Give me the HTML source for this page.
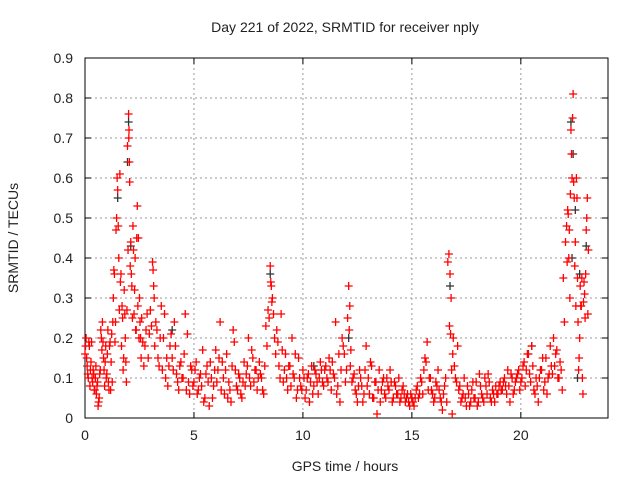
<!DOCTYPE html>
<html><head><meta charset="utf-8"><style>
body{margin:0;background:#fff}
svg{display:block;font-family:"Liberation Sans",sans-serif}
</style></head><body>
<svg id="chart" width="640" height="480">
<text x="345" y="32" text-anchor="middle" font-size="14" fill="#222">Day 221 of 2022, SRMTID for receiver nply</text>
<text transform="translate(18,238) rotate(-90)" text-anchor="middle" font-size="14" fill="#222">SRMTID / TECUs</text>
<text x="345" y="471" text-anchor="middle" font-size="14" fill="#222">GPS time / hours</text>
<g id="grid"></g><g id="axes"></g><g id="marks"></g>
</svg>
<script>
const xTicks=[0,5,10,15,20];
const yTicks=[0,0.1,0.2,0.3,0.4,0.5,0.6,0.7,0.8,0.9];
const yTickLabels=["0","0.1","0.2","0.3","0.4","0.5","0.6","0.7","0.8","0.9"];
const redT=[0,0.05,0.1,0.15,0.2,0.25,0.3,0.35,0.4,0.45,0.5,0.55,0.6,0.65,0.7,0.75,0.8,0.85,0.9,0.95,1.0,1.05,1.1,1.15,1.2,1.25,1.3,1.35,1.4,1.45,1.5,1.55,1.6,1.65,1.7,1.75,1.8,1.85,1.9,1.95,2.0,2.02,2.05,2.1,2.15,2.2,2.25,2.3,2.35,2.4,2.45,2.5,2.55,2.6,2.7,2.8,2.9,3.0,3.1,3.15,3.2,3.3,3.4,3.5,3.6,3.7,3.8,3.9,4.0,4.1,4.2,4.3,4.4,4.5,4.6,4.7,4.8,4.9,5.0,5.1,5.2,5.3,5.4,5.5,5.6,5.7,5.8,5.9,6.0,6.1,6.2,6.3,6.4,6.5,6.6,6.7,6.8,6.9,7.0,7.1,7.2,7.3,7.4,7.5,7.6,7.7,7.8,7.9,8.0,8.1,8.2,8.3,8.4,8.5,8.55,8.6,8.7,8.8,8.9,9.0,9.1,9.2,9.3,9.4,9.5,9.6,9.7,9.8,9.9,10.0,10.1,10.2,10.3,10.4,10.5,10.6,10.7,10.8,10.9,11.0,11.1,11.2,11.3,11.4,11.5,11.6,11.7,11.8,11.9,12.0,12.1,12.15,12.2,12.3,12.4,12.5,12.6,12.7,12.8,12.9,13.0,13.1,13.2,13.3,13.4,13.5,13.6,13.7,13.8,13.9,14.0,14.1,14.2,14.3,14.4,14.5,14.6,14.7,14.8,14.9,15.0,15.1,15.2,15.3,15.4,15.5,15.6,15.7,15.8,15.9,16.0,16.1,16.2,16.3,16.4,16.5,16.6,16.7,16.75,16.8,16.85,16.9,17.0,17.1,17.2,17.3,17.4,17.5,17.6,17.7,17.8,17.9,18.0,18.1,18.2,18.3,18.4,18.5,18.6,18.7,18.8,18.9,19.0,19.1,19.2,19.3,19.4,19.5,19.6,19.7,19.8,19.9,20.0,20.1,20.2,20.3,20.4,20.5,20.6,20.7,20.8,20.9,21.0,21.1,21.2,21.3,21.4,21.5,21.6,21.7,21.8,21.9,22.0,22.1,22.15,22.2,22.25,22.3,22.35,22.4,22.45,22.5,22.55,22.6,22.65,22.7,22.75,22.8,22.85,22.9,22.95,23.0,23.05,23.1];
const redV=[0.16,0.2,0.13,0.1,0.18,0.12,0.19,0.09,0.11,0.07,0.13,0.08,0.03,0.05,0.12,0.2,0.24,0.15,0.08,0.18,0.11,0.22,0.07,0.19,0.14,0.09,0.3,0.36,0.24,0.5,0.57,0.4,0.61,0.36,0.28,0.12,0.32,0.2,0.09,0.68,0.76,0.72,0.59,0.44,0.33,0.48,0.26,0.4,0.22,0.53,0.45,0.3,0.2,0.25,0.13,0.22,0.15,0.27,0.39,0.33,0.18,0.22,0.13,0.28,0.2,0.1,0.08,0.18,0.15,0.24,0.11,0.07,0.14,0.1,0.26,0.21,0.06,0.12,0.09,0.14,0.07,0.11,0.17,0.05,0.13,0.03,0.1,0.08,0.17,0.12,0.24,0.14,0.06,0.16,0.09,0.04,0.22,0.12,0.07,0.1,0.05,0.14,0.11,0.2,0.08,0.15,0.12,0.07,0.14,0.1,0.06,0.23,0.27,0.38,0.33,0.3,0.2,0.22,0.13,0.26,0.09,0.16,0.07,0.13,0.2,0.1,0.05,0.15,0.08,0.12,0.05,0.1,0.04,0.13,0.08,0.11,0.06,0.14,0.09,0.12,0.1,0.15,0.07,0.11,0.24,0.08,0.04,0.2,0.16,0.12,0.33,0.28,0.17,0.1,0.07,0.04,0.12,0.08,0.06,0.18,0.1,0.14,0.05,0.09,0.01,0.12,0.07,0.1,0.05,0.08,0.12,0.04,0.09,0.06,0.1,0.05,0.08,0.04,0.06,0.03,0.05,0.03,0.07,0.05,0.1,0.06,0.15,0.19,0.1,0.07,0.04,0.09,0.12,0.05,0.02,0.08,0.04,0.41,0.36,0.3,0.01,0.2,0.1,0.18,0.08,0.05,0.1,0.03,0.06,0.04,0.09,0.05,0.03,0.11,0.06,0.04,0.08,0.11,0.05,0.07,0.04,0.06,0.08,0.07,0.09,0.08,0.12,0.04,0.1,0.07,0.1,0.12,0.09,0.13,0.08,0.16,0.11,0.18,0.07,0.1,0.04,0.12,0.15,0.09,0.06,0.11,0.13,0.2,0.16,0.1,0.14,0.07,0.24,0.48,0.52,0.4,0.3,0.72,0.6,0.81,0.55,0.44,0.6,0.35,0.12,0.2,0.28,0.35,0.06,0.34,0.25,0.47,0.55,0.42];
const redV2=[0.18,0.15,0.11,0.19,0.08,0.14,0.1,0.12,0.07,0.1,0.06,0.09,0.04,0.11,0.22,0.17,0.19,0.12,0.14,0.1,
0.16,0.09,0.18,0.07,0.21,0.24,0.37,0.19,0.47,0.6,0.48,0.27,0.34,0.18,0.25,0.15,0.26,0.14,0.27,0.42,
0.7,0.64,0.38,0.36,0.25,0.42,0.32,0.22,0.45,0.28,0.2,0.24,0.15,0.19,
0.18,0.26,0.21,0.23,0.37,0.3,
0.24,0.15,0.2,0.12,0.26,0.15,0.13,0.21,0.12,0.18,0.09,0.13,0.1,0.16,0.07,0.09,0.13,0.08,
0.12,0.06,0.1,0.08,0.04,0.11,0.09,0.14,0.05,0.12,0.09,0.15,0.07,0.1,0.12,0.05,0.07,0.13,0.19,0.08,0.11,0.06,0.09,0.08,0.13,0.1,0.17,0.09,0.12,0.1,
0.11,0.07,0.13,0.18,0.25,0.34,0.29,
0.26,0.16,0.19,0.1,0.17,0.12,0.1,0.13,0.08,0.11,0.16,0.07,0.1,
0.07,0.1,0.07,0.11,0.09,0.06,0.12,0.09,0.1,0.12,0.08,0.13,0.09,0.12,0.14,0.1,0.06,0.16,0.12,0.18,0.09,
0.25,0.22,0.13,
0.09,0.11,0.06,0.08,0.1,0.04,0.12,0.08,0.06,0.13,0.05,0.09,0.07,0.04,0.09,0.06,0.1,0.07,0.09,0.05,0.08,0.06,0.04,0.07,0.06,0.05,0.04,
0.06,0.04,0.05,0.08,0.06,0.09,0.12,0.14,0.07,0.1,0.06,0.05,0.08,0.07,0.04,0.06,0.1,
0.39,0.23,0.21,0.12,0.16,
0.13,0.09,0.07,0.04,0.06,0.05,0.08,0.03,0.07,0.05,0.09,0.04,0.08,0.05,0.1,0.06,0.09,0.04,0.06,0.08,0.06,0.09,0.07,0.1,0.06,0.08,0.11,0.06,0.09,0.11,0.07,0.1,0.14,0.12,0.16,0.09,0.13,0.06,0.08,0.1,0.12,0.07,0.15,0.1,0.18,0.11,0.13,0.17,0.1,0.12,
0.35,0.44,0.39,0.51,0.47,0.56,0.66,0.75,0.59,0.38,0.28,0.55,0.24,0.15,0.33,0.28,0.1,0.29,0.31,0.36,0.5,0.26];
const blackT=[1.5,1.95,2.0,2.1,4.0,8.5,10.5,12.1,15.0,16.75,20.5,22.3,22.35,22.4,22.5,22.6,22.7,23.0];
const blackV=[0.55,0.64,0.74,0.43,0.22,0.36,0.13,0.2,0.05,0.33,0.18,0.74,0.4,0.66,0.52,0.1,0.36,0.43];
const L=85,R=608,T=58,B=418,ns="http://www.w3.org/2000/svg";
const xs=h=>L+h*(R-L)/24, ys=v=>B-v*(B-T)/0.9;
function mk(tag,attrs,parent){const e=document.createElementNS(ns,tag);for(const k in attrs)e.setAttribute(k,attrs[k]);parent.appendChild(e);return e;}
const grid=document.getElementById('grid'),axes=document.getElementById('axes'),marks=document.getElementById('marks');
xTicks.forEach(t=>{const x=xs(t);
 if(t>0){const g=mk('line',{x1:x,x2:x,y1:T,y2:B,stroke:'#999','stroke-dasharray':'2,3'},grid);
 
 }
 mk('line',{x1:x,x2:x,y1:B,y2:B-6,stroke:'#000'},axes);mk('line',{x1:x,x2:x,y1:T,y2:T+6,stroke:'#000'},axes);
 const tx=mk('text',{x:x,y:B+22,'text-anchor':'middle','font-size':14,fill:'#222'},axes);tx.textContent=t;
 
 });
yTicks.forEach((v,i)=>{const y=ys(v);
 if(i>0&&i<yTicks.length-1){const g=mk('line',{x1:L,x2:R,y1:y,y2:y,stroke:'#999','stroke-dasharray':'2,3'},grid);
 
 }
 mk('line',{x1:L,x2:L+6,y1:y,y2:y,stroke:'#000'},axes);mk('line',{x1:R,x2:R-6,y1:y,y2:y,stroke:'#000'},axes);
 const tx=mk('text',{x:L-12,y:y+5,'text-anchor':'end','font-size':14,fill:'#222'},axes);tx.textContent=yTickLabels[i];
 
 });
const fr=mk('rect',{x:L,y:T,width:R-L,height:B-T,fill:'none',stroke:'#000'},axes);


function plus(t,v,c,name){const x=xs(t),y=ys(v);
 const p=mk('path',{d:`M${x-4},${y}h8M${x},${y-4}v8`,stroke:c,'stroke-width':1.3,fill:'none'},marks);
 
 }
blackT.forEach((t,i)=>plus(t,blackV[i],'#333','black-point'));
redT.forEach((t,i)=>plus(t,redV[i],'#f00','red-point'));
redV2.forEach((v,i)=>{if(i>=redT.length)return;const t=i+1<redT.length?(redT[i]+redT[i+1])/2:redT[i];plus(t,v,'#f00','red-point');});
</script>
</body></html>
